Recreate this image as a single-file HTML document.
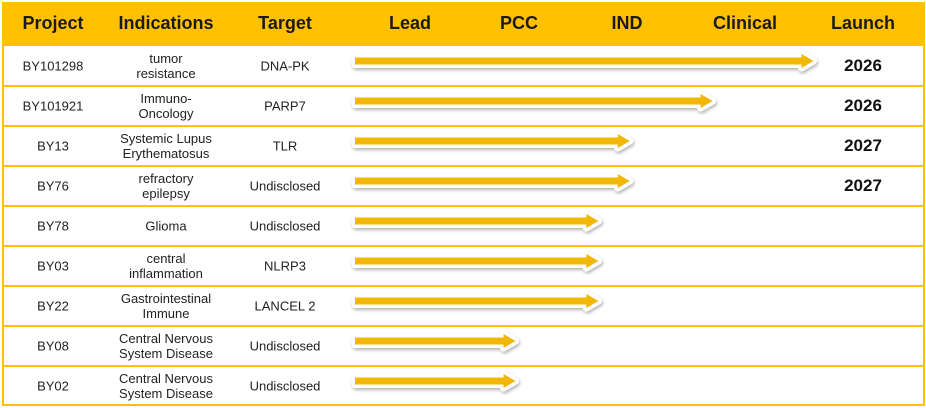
<!DOCTYPE html>
<html><head><meta charset="utf-8"><style>
body{margin:0;background:#fff;width:926px;height:408px;overflow:hidden;font-family:"Liberation Sans",sans-serif}
#wrap{position:absolute;left:0;top:0;width:926px;height:408px}
.hdr{position:absolute;top:2px;left:2px;width:921px;height:44px;background:#FFC000}
.ht{position:absolute;top:13px;font-weight:bold;font-size:18px;color:#1a1a1a;transform:translateX(-50%);white-space:nowrap}
.cell{position:absolute;font-size:13px;color:#222;transform:translate(-50%,-50%);text-align:center;line-height:15px;white-space:nowrap}
.yr{position:absolute;font-size:17px;font-weight:bold;color:#111;transform:translate(-50%,-50%)}
.rl{position:absolute;left:2px;width:921px;height:2px;background:#FFC000}
</style></head><body>
<div id="wrap">
<div class="hdr"></div>
<div class="ht" style="left:53px">Project</div>
<div class="ht" style="left:166px">Indications</div>
<div class="ht" style="left:285px">Target</div>
<div class="ht" style="left:410px">Lead</div>
<div class="ht" style="left:519px">PCC</div>
<div class="ht" style="left:627px">IND</div>
<div class="ht" style="left:745px">Clinical</div>
<div class="ht" style="left:863px">Launch</div>
<div style="position:absolute;left:2px;top:2px;width:919px;height:402px;border:2px solid #FFC000;border-top:none"></div>
<svg id="arrows" width="926" height="408" style="position:absolute;left:0;top:0">
<defs><filter id="sh" x="-5%" y="-50%" width="110%" height="200%"><feDropShadow dx="1" dy="2" stdDeviation="1.5" flood-color="#000" flood-opacity="0.3"/></filter></defs>
</svg>
</div>
<script>
const projects=["BY101298","BY101921","BY13","BY76","BY78","BY03","BY22","BY08","BY02"];
const indications=["tumor\nresistance","Immuno-\nOncology","Systemic Lupus\nErythematosus","refractory\nepilepsy","Glioma","central\ninflammation","Gastrointestinal\nImmune","Central Nervous\nSystem Disease","Central Nervous\nSystem Disease"];
const targets=["DNA-PK","PARP7","TLR","Undisclosed","Undisclosed","NLRP3","LANCEL 2","Undisclosed","Undisclosed"];
const progress=[4.12,3.22,2.48,2.48,2.2,2.2,2.2,1.46,1.46];
const launch=["2026","2026","2027","2027","","","","",""];
const wrap=document.getElementById('wrap');
const svg=document.getElementById('arrows');
const NS="http://www.w3.org/2000/svg";
const xScale=v=>352+v*112;
const rowTop=i=>46+i*40;
function addDiv(cls,left,top,text){const d=document.createElement('div');d.className=cls;d.style.left=left+'px';d.style.top=top+'px';d.innerHTML=text.replace('\n','<br>');wrap.appendChild(d);return d;}
projects.forEach((p,i)=>{
  const t=rowTop(i), cy=t+20;
  if(i>0){const l=document.createElement('div');l.className='rl';l.style.top=(t-1)+'px';
  
  
  wrap.appendChild(l);}
  const a=addDiv('cell',53,cy,p);
  
  
  const b=addDiv('cell',166,cy,indications[i]);
  
  
  const c=addDiv('cell',285,cy,targets[i]);
  
  
  if(launch[i]){const y=addDiv('yr',863,cy,launch[i]);
  
  }
  const x0=xScale(0)+3, x1=xScale(progress[i]), ay=t+15;
  const pts=`${x0},${ay-3.5} ${x1-12},${ay-3.5} ${x1-12},${ay-7} ${x1},${ay} ${x1-12},${ay+7} ${x1-12},${ay+3.5} ${x0},${ay+3.5}`;
  const bg=document.createElementNS(NS,'polygon');
  bg.setAttribute('points',pts);bg.setAttribute('fill','#fff');bg.setAttribute('stroke','#fff');bg.setAttribute('stroke-width','7');bg.setAttribute('stroke-linejoin','round');bg.setAttribute('filter','url(#sh)');
  
  
  svg.appendChild(bg);
  const fg=document.createElementNS(NS,'polygon');
  fg.setAttribute('points',pts);fg.setAttribute('fill','#F2B705');
  
  
  svg.appendChild(fg);
});
</script>
</body></html>
